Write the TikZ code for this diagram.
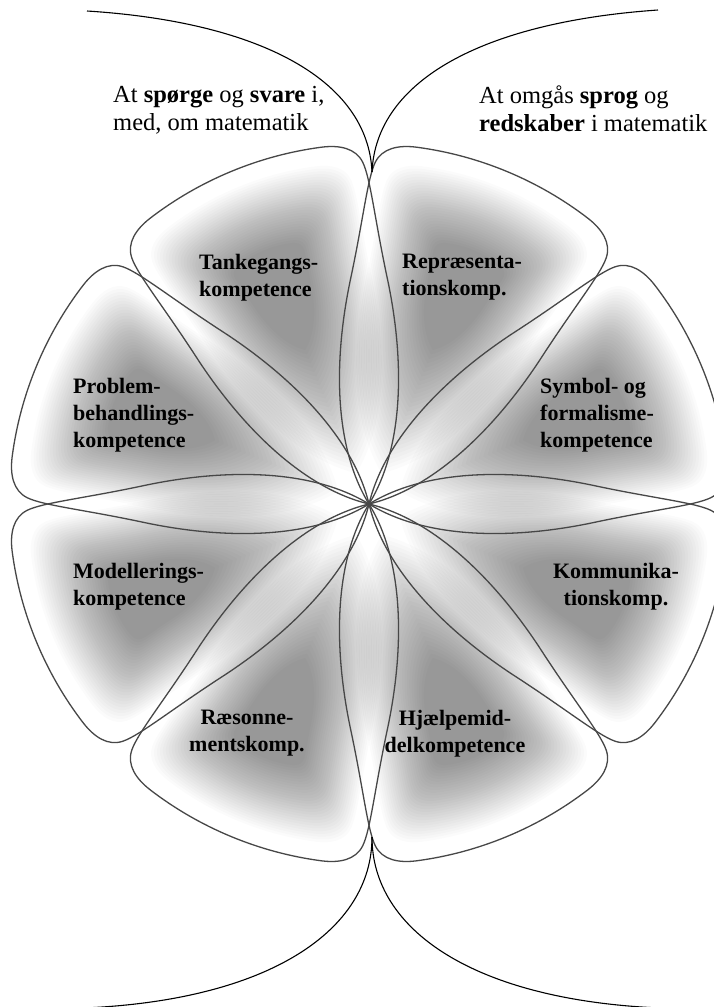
\documentclass[tikz,border=0pt]{standalone}
\usepackage{fontspec}
\setmainfont{Liberation Serif}
\tikzset{
  petaledge/.style={draw=black!72, line width=1.3pt},
  glowlayer/.style={fill=black, fill opacity=0.016},
  bigcurve/.style={draw=black, line width=1.1pt},
  lab/.style={font=\fontsize{22}{27}\selectfont\bfseries, inner sep=0pt},
  toptext/.style={font=\fontsize{24.5}{28}\selectfont, inner sep=0pt, align=left, anchor=north west},
}
\newcommand{\petalpath}{(0,0) .. controls (40,55) and (120,88) .. (200,103) .. controls (260,114) and (300,126) .. (318,125) .. controls (334,124) and (343,110) .. (347.7,93.2) .. controls (355.9,62.8) and (360,31.5) .. (360,0) .. controls (360,-31.5) and (355.9,-62.8) .. (347.7,-93.2) .. controls (343,-110) and (334,-124) .. (318,-125) .. controls (300,-126) and (260,-114) .. (200,-103) .. controls (120,-88) and (40,-55) .. (0,0) -- cycle}
\begin{document}
\begin{tikzpicture}[x=1pt,y=-1pt]
\useasboundingbox[fill=white] (0,0) rectangle (713,1007);
\coordinate (c) at (369,504);
% soft grey glow inside each petal
\foreach \a in {22.5,67.5,112.5,157.5,202.5,247.5,292.5,337.5}{
  \begin{scope}[shift={(c)}, rotate=\a]
    \foreach \s in {0.86,0.84,...,0.28}{
      \path[glowlayer, shift={(238,0)}, scale=\s, shift={(-238,0)}] \petalpath;
    }
  \end{scope}
}
% petal outlines
\foreach \a in {22.5,67.5,112.5,157.5,202.5,247.5,292.5,337.5}{
  \begin{scope}[shift={(c)}, rotate=\a]
    \path[petaledge] \petalpath;
  \end{scope}
}
% big curves
\coordinate (tl) at (87,11);
\coordinate (tr) at (658,10);
\coordinate (topcusp) at (372,172);
\coordinate (botcusp) at (372,837);
\coordinate (bl) at (84,1008);
\coordinate (br) at (660,1008);
\draw[bigcurve] (tl) .. controls (260,22) and (368,80) .. (topcusp);
\draw[bigcurve] (tr) .. controls (484,22) and (376,80) .. (topcusp);
\draw[bigcurve] (botcusp) .. controls (372,930) and (270,1000) .. (bl);
\draw[bigcurve] (botcusp) .. controls (372,930) and (474,1000) .. (br);
% top texts
\node[toptext] (tq) at (113,86) {At \textbf{spørge} og \textbf{svare} i,\\med, om matematik};
\node[toptext] (tt) at (479,86) {At omgås \textbf{sprog} og\\\textbf{redskaber} i matematik};
% labels
\node[lab, anchor=north west, align=left] (n1) at (199,254) {Tankegangs-\\kompetence};
\node[lab, anchor=north west, align=left] (n2) at (402,254) {Repræsenta-\\tionskomp.};
\node[lab, anchor=north west, align=left] (n3) at (73,378) {Problem-\\behandlings-\\kompetence};
\node[lab, anchor=north west, align=left] (n4) at (540,378) {Symbol- og\\formalisme-\\kompetence};
\node[lab, anchor=north west, align=left] (n5) at (73,563) {Modellerings-\\kompetence};
\node[lab, anchor=north, align=center] (n6) at (616,563) {Kommunika-\\tionskomp.};
\node[lab, anchor=north, align=center] (n7) at (247,710) {Ræsonne-\\mentskomp.};
\node[lab, anchor=north, align=center] (n8) at (455,710) {Hjælpemid-\\delkompetence};
\end{tikzpicture}
\end{document}
